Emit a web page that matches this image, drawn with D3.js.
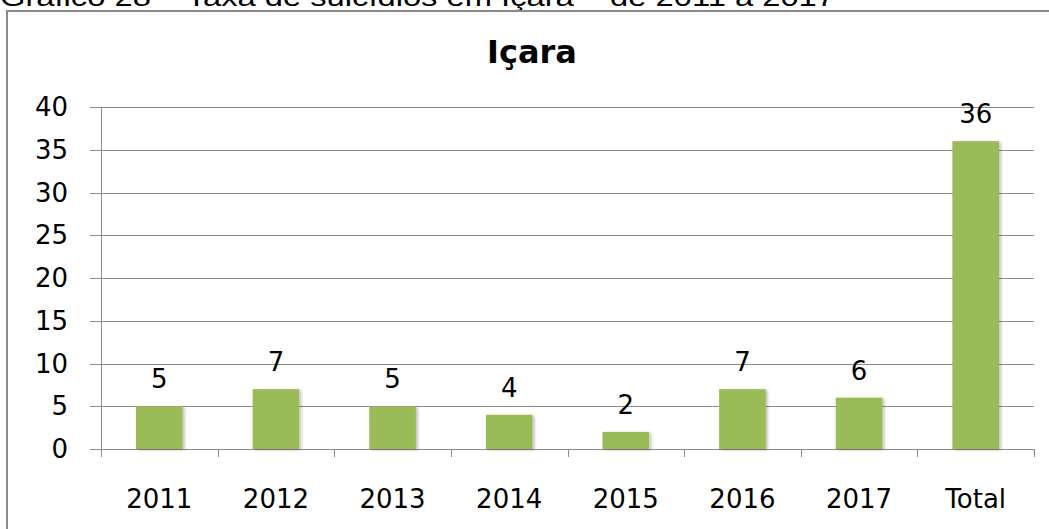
<!DOCTYPE html>
<html lang="pt">
<head>
  <meta charset="UTF-8" />
  <title>Içara</title>
  <style>
    body { margin: 0; background: #fff; overflow: hidden; }
    svg { display: block; }
    .grid line { stroke: #8c8c8c; stroke-width: 1px; }
    .lbl { font-family: "DejaVu Sans", Verdana, sans-serif; font-size: 26px; fill: #000; }
  </style>
</head>
<body>
<svg id="chart"></svg>
<script src="https://d3js.org/d3.v7.min.js"></script>
<script>
  const categories = ["2011", "2012", "2013", "2014", "2015", "2016", "2017", "Total"];
  const values = [5, 7, 5, 4, 2, 7, 6, 36];
  const yTicks = [0, 5, 10, 15, 20, 25, 30, 35, 40];

  const width = 1049, height = 529;
  const svg = d3.select("#chart").attr("width", width).attr("height", height);

  const defs = svg.append("defs");
  const f = defs.append("filter").attr("id", "shadow")
    .attr("x", "-20%").attr("y", "-20%").attr("width", "150%").attr("height", "150%");
  f.append("feDropShadow").attr("dx", 2).attr("dy", 1).attr("stdDeviation", 1.5)
    .attr("flood-color", "#000").attr("flood-opacity", 0.25);

  // caption above the frame (cut off at the top)
  svg.append("text")
    .attr("x", 0).attr("y", 6)
    .attr("textLength", 835).attr("lengthAdjust", "spacingAndGlyphs")
    .style("font-family", "'Liberation Sans', Arial, sans-serif")
    .style("font-size", "26px")
    .text("Gráfico 28 – Taxa de suicídios em Içara – de 2011 a 2017");

  // chart frame
  svg.append("rect")
    .attr("x", 7).attr("y", 11).attr("width", 1100).attr("height", 600)
    .attr("fill", "#fff").attr("stroke", "#8a8a8a").attr("stroke-width", 2);

  svg.append("text")
    .attr("x", 532).attr("y", 63)
    .attr("text-anchor", "middle")
    .style("font-family", "'DejaVu Sans', sans-serif")
    .style("font-weight", "bold")
    .style("font-size", "32px")
    .text("Içara");

  const plotLeft = 101, plotRight = 1034, plotTop = 107, plotBottom = 449;

  const x = d3.scaleBand().domain(categories).range([plotLeft, plotRight]).padding(0);
  const y = d3.scaleLinear().domain([0, 40]).range([plotBottom, plotTop]);

  // gridlines
  svg.append("g").attr("class", "grid")
    .selectAll("line").data(yTicks).enter().append("line")
    .attr("x1", 90).attr("x2", plotRight)
    .attr("y1", d => Math.round(y(d)) + 0.5).attr("y2", d => Math.round(y(d)) + 0.5);

  // y axis line
  svg.append("line")
    .attr("x1", plotLeft + 0.5).attr("x2", plotLeft + 0.5)
    .attr("y1", plotTop).attr("y2", plotBottom + 8)
    .attr("stroke", "#8c8c8c");

  // x tick marks
  const xTickPos = categories.map(c => x(c)).concat([plotRight]);
  svg.append("g").selectAll("line").data(xTickPos).enter().append("line")
    .attr("x1", d => Math.round(d) + 0.5).attr("x2", d => Math.round(d) + 0.5)
    .attr("y1", plotBottom).attr("y2", plotBottom + 8)
    .attr("stroke", "#8c8c8c");

  // y labels
  svg.append("g").selectAll("text").data(yTicks).enter().append("text")
    .attr("class", "lbl")
    .attr("x", 68).attr("y", d => y(d))
    .attr("dy", "0.35em")
    .attr("text-anchor", "end")
    .text(d => d);

  // x labels
  svg.append("g").selectAll("text").data(categories).enter().append("text")
    .attr("class", "lbl")
    .attr("x", d => x(d) + x.bandwidth() / 2)
    .attr("y", 508)
    .attr("text-anchor", "middle")
    .text(d => d);

  // bars
  const barW = x.bandwidth() * 0.4;
  svg.append("g").selectAll("rect").data(values).enter().append("rect")
    .attr("x", (d, i) => x(categories[i]) + (x.bandwidth() - barW) / 2)
    .attr("y", d => y(d))
    .attr("width", barW)
    .attr("height", d => y(0) - y(d))
    .attr("fill", "#9bbb59")
    .attr("filter", "url(#shadow)");

  // value labels
  svg.append("g").selectAll("text").data(values).enter().append("text")
    .attr("class", "lbl")
    .attr("x", (d, i) => x(categories[i]) + x.bandwidth() / 2)
    .attr("y", d => y(d) - 18)
    .attr("text-anchor", "middle")
    .text(d => d);
</script>
</body>
</html>
